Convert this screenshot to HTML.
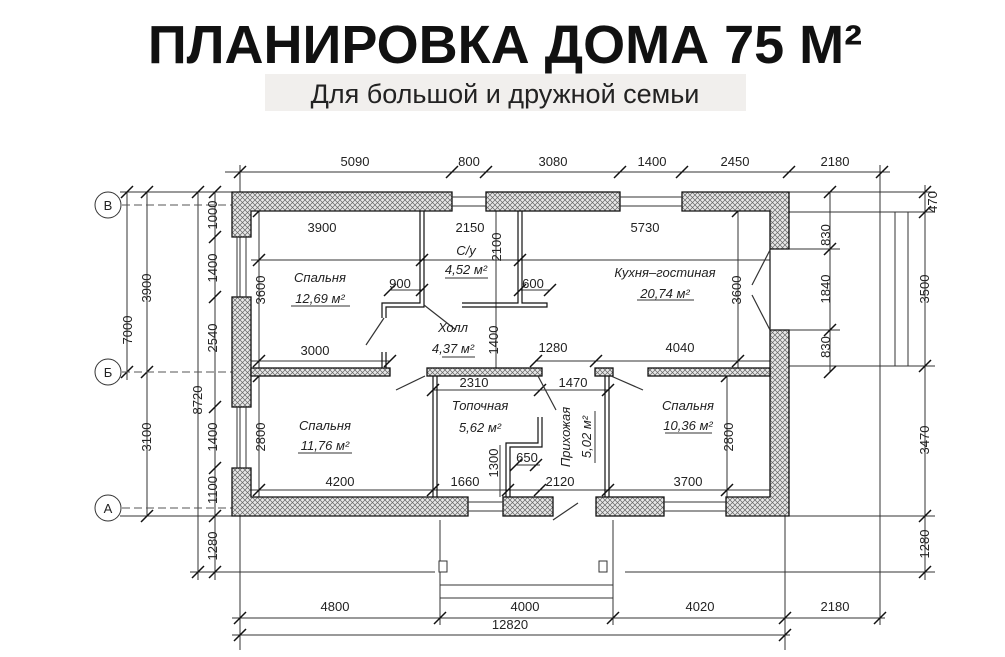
<!DOCTYPE html>
<html><head><meta charset="utf-8"><style>
html,body{margin:0;padding:0;background:#fff;}
svg{display:block;}
.t{font-family:"Liberation Sans",sans-serif;font-size:13px;fill:#222;}
.i{font-family:"Liberation Sans",sans-serif;font-size:13px;font-style:italic;fill:#222;}
</style></head><body>
<svg width="1005" height="657" viewBox="0 0 1005 657" xmlns="http://www.w3.org/2000/svg">
<defs>
<pattern id="h" width="5" height="5" patternUnits="userSpaceOnUse">
<rect width="5" height="5" fill="#e8e8e8"/>
<path d="M0 0L5 5M5 0L0 5" stroke="#666" stroke-width="0.7"/>
</pattern>
</defs>
<text x="505" y="63" text-anchor="middle" font-family="Liberation Sans,sans-serif" font-weight="bold" font-size="54" fill="#111">ПЛАНИРОВКА ДОМА 75 М²</text>
<rect x="265" y="74" width="481" height="37" fill="#f1efed"/>
<text x="505" y="103" text-anchor="middle" font-family="Liberation Sans,sans-serif" font-size="27" fill="#222">Для большой и дружной семьи</text>

<g stroke="#333" stroke-width="1" fill="none">
<line x1="225" y1="172" x2="890" y2="172"/>
<line x1="232" y1="618" x2="885" y2="618"/>
<line x1="232" y1="635" x2="790" y2="635"/>
<line x1="830" y1="192" x2="830" y2="372"/>
<line x1="925" y1="185" x2="925" y2="580"/>
<line x1="127" y1="192" x2="127" y2="380"/>
<line x1="147" y1="192" x2="147" y2="516"/>
<line x1="198" y1="192" x2="198" y2="580"/>
<line x1="215" y1="192" x2="215" y2="580"/>
<line x1="259" y1="211" x2="259" y2="368"/><line x1="259" y1="376" x2="259" y2="497"/>
<line x1="738" y1="211" x2="738" y2="368"/><line x1="727" y1="376" x2="727" y2="497"/>
<line x1="251" y1="260" x2="770" y2="260"/>
<line x1="251" y1="361" x2="390" y2="361"/>
<line x1="535" y1="361" x2="770" y2="361"/>
<line x1="433" y1="390" x2="608" y2="390"/>
<line x1="251" y1="490" x2="770" y2="490"/>
<line x1="390" y1="290" x2="422" y2="290"/>
<line x1="520" y1="290" x2="550" y2="290"/>
<line x1="516" y1="465" x2="540" y2="465"/>
<line x1="496" y1="211" x2="496" y2="368"/>
<line x1="500" y1="445" x2="500" y2="497"/>
<line x1="240" y1="165" x2="240" y2="650"/>
<line x1="440" y1="520" x2="440" y2="625"/>
<line x1="613" y1="520" x2="613" y2="625"/>
<line x1="785" y1="516" x2="785" y2="650"/>
<line x1="880" y1="165" x2="880" y2="625"/>
<line x1="789" y1="192" x2="935" y2="192"/>
<line x1="789" y1="212" x2="935" y2="212"/>
<line x1="789" y1="249" x2="840" y2="249"/>
<line x1="789" y1="330" x2="840" y2="330"/>
<line x1="789" y1="366" x2="935" y2="366"/>
<line x1="789" y1="516" x2="935" y2="516"/>
<line x1="232" y1="572" x2="435" y2="572"/><line x1="625" y1="572" x2="935" y2="572"/>
<line x1="440" y1="585" x2="613" y2="585"/><line x1="440" y1="598" x2="613" y2="598"/>
<line x1="895" y1="212" x2="895" y2="366"/><line x1="908" y1="212" x2="908" y2="366"/>
<line x1="120" y1="192" x2="232" y2="192"/>
<line x1="120" y1="516" x2="232" y2="516"/>
<line x1="190" y1="572" x2="232" y2="572"/>
</g>
<g stroke="#111" stroke-width="1.5">
<path d="M234 178l12-12M446 178l12-12M480 178l12-12M614 178l12-12M676 178l12-12M783 178l12-12M876 178l12-12
M234 624l12-12M434 624l12-12M607 624l12-12M779 624l12-12M874 624l12-12M234 641l12-12M779 641l12-12
M824 198l12-12M824 255l12-12M824 336l12-12M824 378l12-12
M919 198l12-12M919 218l12-12M919 372l12-12M919 522l12-12M919 578l12-12
M141 198l12-12M121 198l12-12M141 378l12-12M121 378l12-12M141 522l12-12
M192 198l12-12M209 198l12-12M209 243l12-12M209 303l12-12M209 413l12-12M209 474l12-12M209 522l12-12M192 578l12-12M209 578l12-12
M253 217l12-12M253 266l12-12M253 367l12-12M253 382l12-12M253 496l12-12M732 217l12-12M732 367l12-12M721 382l12-12M721 496l12-12
M416 266l12-12M514 266l12-12M416 296l12-12M384 296l12-12M514 296l12-12M544 296l12-12
M384 367l12-12M530 367l12-12M590 367l12-12M427 396l12-12M534 396l12-12M602 396l12-12
M427 496l12-12M502 496l12-12M534 496l12-12M602 496l12-12M510 471l12-12M530 471l12-12"/>
</g>
<g stroke="#555" stroke-width="1" stroke-dasharray="8,4">
<line x1="122" y1="205" x2="232" y2="205"/>
<line x1="122" y1="372" x2="232" y2="372"/>
<line x1="122" y1="508" x2="232" y2="508"/>
</g>
<g fill="#fff" stroke="#333">
<circle cx="108" cy="205" r="13"/><circle cx="108" cy="372" r="13"/><circle cx="108" cy="508" r="13"/>
</g>
<text x="108" y="210" text-anchor="middle" class="t" font-size="14">В</text>
<text x="108" y="377" text-anchor="middle" class="t" font-size="14">Б</text>
<text x="108" y="513" text-anchor="middle" class="t" font-size="14">А</text>

<g fill="url(#h)" stroke="#111" stroke-width="1.3">
<path d="M232 192H452V211H251V237H232Z"/>
<rect x="486" y="192" width="134" height="19"/>
<path d="M682 192H789V249H770V211H682Z"/>
<rect x="232" y="297" width="19" height="110"/>
<path d="M232 468H251V497H468V516H232Z"/>
<rect x="503" y="497" width="50" height="19"/>
<rect x="596" y="497" width="68" height="19"/>
<path d="M726 497H770V330H789V516H726Z"/>
<rect x="251" y="368" width="139" height="8"/>
<rect x="427" y="368" width="115" height="8"/>
<rect x="595" y="368" width="18" height="8"/>
<rect x="648" y="368" width="122" height="8"/>
</g>
<g stroke="#333" stroke-width="1" fill="none">
<path d="M452 197H486M452 206H486M620 197H682M620 206H682M237 237V297M246 237V297M237 407V468M246 407V468M468 502H503M468 511H503M664 502H726M664 511H726"/>
</g>
<g stroke="#111" stroke-width="1.2" fill="none">
<path d="M420 211V303H382V318M424 211V307H386V318"/>
<path d="M518 211V303H462M522 211V303H547V307H462"/>
<path d="M433 376V497M437 376V497"/>
<path d="M538 417V443H506V497M542 417V447H510V497"/>
<path d="M605 376V497M609 376V497"/>
<path d="M382 352V368M386 352V368"/>
<path d="M770 249V330"/>
</g>
<g stroke="#333" stroke-width="1.2" fill="none">
<path d="M384 318L366 345M424 305L456 330M396 390L425 376M538 376L556 410M611 376L643 390M553 520L578 503M770 250L752 285M770 330L752 295"/>
</g>

<g class="t" text-anchor="middle">
<text x="355" y="166">5090</text><text x="469" y="166">800</text><text x="553" y="166">3080</text><text x="652" y="166">1400</text><text x="735" y="166">2450</text><text x="835" y="166">2180</text>
<text x="322" y="232">3900</text><text x="470" y="232">2150</text><text x="645" y="232">5730</text>
<text x="400" y="288">900</text><text x="533" y="288">600</text>
<text x="315" y="355">3000</text><text x="553" y="352">1280</text><text x="680" y="352">4040</text>
<text x="474" y="387">2310</text><text x="573" y="387">1470</text>
<text x="527" y="462">650</text>
<text x="340" y="486">4200</text><text x="465" y="486">1660</text><text x="560" y="486">2120</text><text x="688" y="486">3700</text>
<text x="335" y="611">4800</text><text x="525" y="611">4000</text><text x="700" y="611">4020</text><text x="835" y="611">2180</text><text x="510" y="629">12820</text>
</g>
<g class="t" text-anchor="middle">
<text transform="translate(132,330) rotate(-90)">7000</text>
<text transform="translate(151,288) rotate(-90)">3900</text>
<text transform="translate(151,437) rotate(-90)">3100</text>
<text transform="translate(202,400) rotate(-90)">8720</text>
<text transform="translate(217,215) rotate(-90)">1000</text>
<text transform="translate(217,268) rotate(-90)">1400</text>
<text transform="translate(217,338) rotate(-90)">2540</text>
<text transform="translate(217,437) rotate(-90)">1400</text>
<text transform="translate(217,490) rotate(-90)">1100</text>
<text transform="translate(217,546) rotate(-90)">1280</text>
<text transform="translate(265,290) rotate(-90)">3600</text>
<text transform="translate(265,437) rotate(-90)">2800</text>
<text transform="translate(741,290) rotate(-90)">3600</text>
<text transform="translate(733,437) rotate(-90)">2800</text>
<text transform="translate(501,247) rotate(-90)">2100</text>
<text transform="translate(498,340) rotate(-90)">1400</text>
<text transform="translate(498,463) rotate(-90)">1300</text>
<text transform="translate(830,235) rotate(-90)">830</text>
<text transform="translate(830,289) rotate(-90)">1840</text>
<text transform="translate(830,347) rotate(-90)">830</text>
<text transform="translate(937,202) rotate(-90)">470</text>
<text transform="translate(929,289) rotate(-90)">3500</text>
<text transform="translate(929,440) rotate(-90)">3470</text>
<text transform="translate(929,544) rotate(-90)">1280</text>
</g>
<g class="i" text-anchor="middle">
<text x="320" y="282">Спальня</text>
<text x="320" y="303">12,69 м²</text>
<text x="466" y="255">С/у</text>
<text x="466" y="274">4,52 м²</text>
<text x="665" y="277">Кухня–гостиная</text>
<text x="665" y="298">20,74 м²</text>
<text x="453" y="332">Холл</text>
<text x="453" y="353">4,37 м²</text>
<text x="480" y="410">Топочная</text>
<text x="480" y="432">5,62 м²</text>
<text x="325" y="430">Спальня</text>
<text x="325" y="450">11,76 м²</text>
<text x="688" y="410">Спальня</text>
<text x="688" y="430">10,36 м²</text>
<text transform="translate(570,437) rotate(-90)">Прихожая</text>
<text transform="translate(591,437) rotate(-90)">5,02 м²</text>
</g>
<g stroke="#333"><path d="M291 306H350M442 357H475M445 278H488M637 300H694M298 453H352M665 433H712M595 411V463"/></g>
<g fill="#fff" stroke="#333"><rect x="439" y="561" width="8" height="11"/><rect x="599" y="561" width="8" height="11"/></g>
</svg>
</body></html>
